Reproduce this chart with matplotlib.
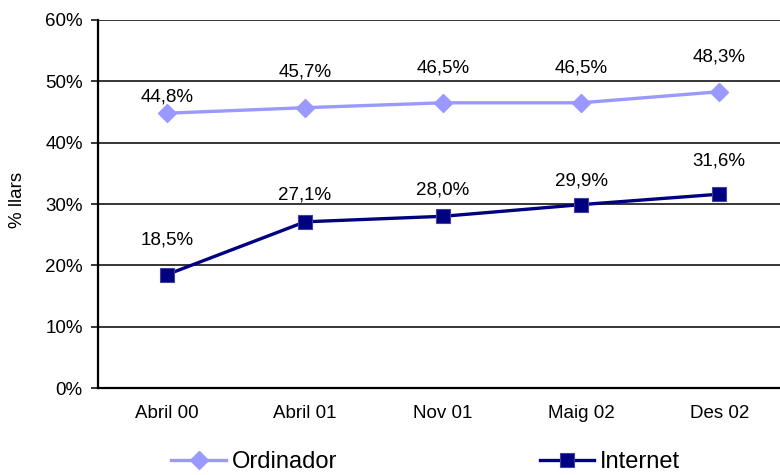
import matplotlib.pyplot as plt

# Data
periods = ['Abril 00', 'Abril 01', 'Nov 01', 'Maig 02', 'Des 02']
ordinador = [44.8, 45.7, 46.5, 46.5, 48.3]
internet = [18.5, 27.1, 28.0, 29.9, 31.6]
yticks = [0, 10, 20, 30, 40, 50, 60]

# label offsets above each point (points), labels were hand placed in the original
ord_offsets = [12, 26, 25, 25, 25]
int_offsets = [25, 19, 19, 17, 24]

plt.rcParams['font.family'] = ['Liberation Sans', 'DejaVu Sans']

fig = plt.figure(figsize=(7.8, 4.75), dpi=100)
ax = fig.add_axes([0.1256, 0.183, 0.885, 0.775])

x = list(range(len(periods)))

# Gridlines drawn behind the series
for y in yticks[1:]:
    ax.axhline(y, color='black', linewidth=1.1, zorder=1)

ax.plot(x, ordinador, color='#9999FF', linewidth=2.4, marker='D', markersize=9,
        markeredgecolor='#9999FF', label='Ordinador', zorder=3)
ax.plot(x, internet, color='#000080', linewidth=2.4, marker='s', markersize=9.5,
        markeredgecolor='#4040A0', markeredgewidth=0.8, label='Internet', zorder=3)

# Value labels above points
for xi, v, off in zip(x, ordinador, ord_offsets):
    ax.annotate(f'{v:.1f}%'.replace('.', ','), (xi, v), xytext=(0, off),
                textcoords='offset points', ha='center', va='center', fontsize=13.5)
for xi, v, off in zip(x, internet, int_offsets):
    ax.annotate(f'{v:.1f}%'.replace('.', ','), (xi, v), xytext=(0, off),
                textcoords='offset points', ha='center', va='center', fontsize=13.5)

ax.set_xlim(-0.5, 4.5)
ax.set_ylim(0, 60)
ax.set_xticks(x)
ax.set_xticklabels(periods, fontsize=13.5)
ax.set_yticks(yticks)
ax.set_yticklabels([f'{t}%' for t in yticks], fontsize=13.5)
ax.tick_params(axis='x', length=0, pad=12)
ax.tick_params(axis='y', length=5, width=1.1, direction='out', pad=6)
ax.set_ylabel('% llars', fontsize=13.5, va='center')
ax.yaxis.set_label_coords(-0.116, 0.51)

ax.spines['right'].set_visible(False)
ax.spines['top'].set_visible(False)
ax.spines['left'].set_linewidth(1.6)
ax.spines['bottom'].set_linewidth(1.6)

fig.legend(loc='center', bbox_to_anchor=(0.546, 0.027), ncol=2, frameon=False,
           fontsize=17, columnspacing=8.6, handlelength=2.3, handletextpad=0.25,
           borderpad=0)

plt.savefig('out.png', dpi=100)
